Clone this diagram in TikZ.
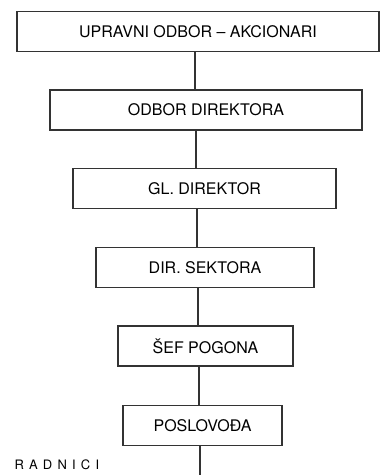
\documentclass[tikz,border=0pt]{standalone}
\usepackage{fontspec}
\setmainfont{TeX Gyre Heros}
\usepackage{tikz}
\usetikzlibrary{calc}

\begin{document}
\begin{tikzpicture}[x=1pt, y=-1pt, font=\fontsize{16}{18}\selectfont]

		% --- 1. styles ---
		\tikzset{
			orgbox/.style={draw=black!80, line width=1.4pt, minimum height=40pt, inner sep=0pt},
			veza/.style={draw=black!80, line width=1.4pt}
		}
		\useasboundingbox (0,0) rectangle (380,475);

		% --- 2. boxes (centres and widths) ---
		\node[orgbox, minimum width=362pt] (uo) at (198,31.5) {UPRAVNI ODBOR -- AKCIONARI};
		\node[orgbox, minimum width=312pt] (od) at (206,110) {ODBOR DIREKTORA};
		\node[orgbox, minimum width=263pt] (gd) at (204.5,188.5) {GL. DIREKTOR};
		\node[orgbox, minimum width=218pt] (ds) at (205,267.5) {DIR. SEKTORA};
		\node[orgbox, minimum width=175pt] (sp) at (205.5,346) {ŠEF POGONA};
		\node[orgbox, minimum width=159pt] (po) at (202.5,425.5) {POSLOVOĐA};

		% --- 3. vertical line ---
		\coordinate (kraj) at (200,475);
		\foreach \a/\b/\x in {uo/od/195, od/gd/196, gd/ds/197, ds/sp/198, sp/po/199} {
			\draw[veza] (\a.south -| \x,0) -- (\b.north -| \x,0);
		}
		\draw[veza] (po.south -| kraj) -- (kraj);

		% --- 4. workers ---
		\node[anchor=west, font=\fontsize{13}{15}\selectfont\addfontfeatures{LetterSpace=40}] (rad) at (11,465) {RADNICI};

	\end{tikzpicture}
\end{document}
